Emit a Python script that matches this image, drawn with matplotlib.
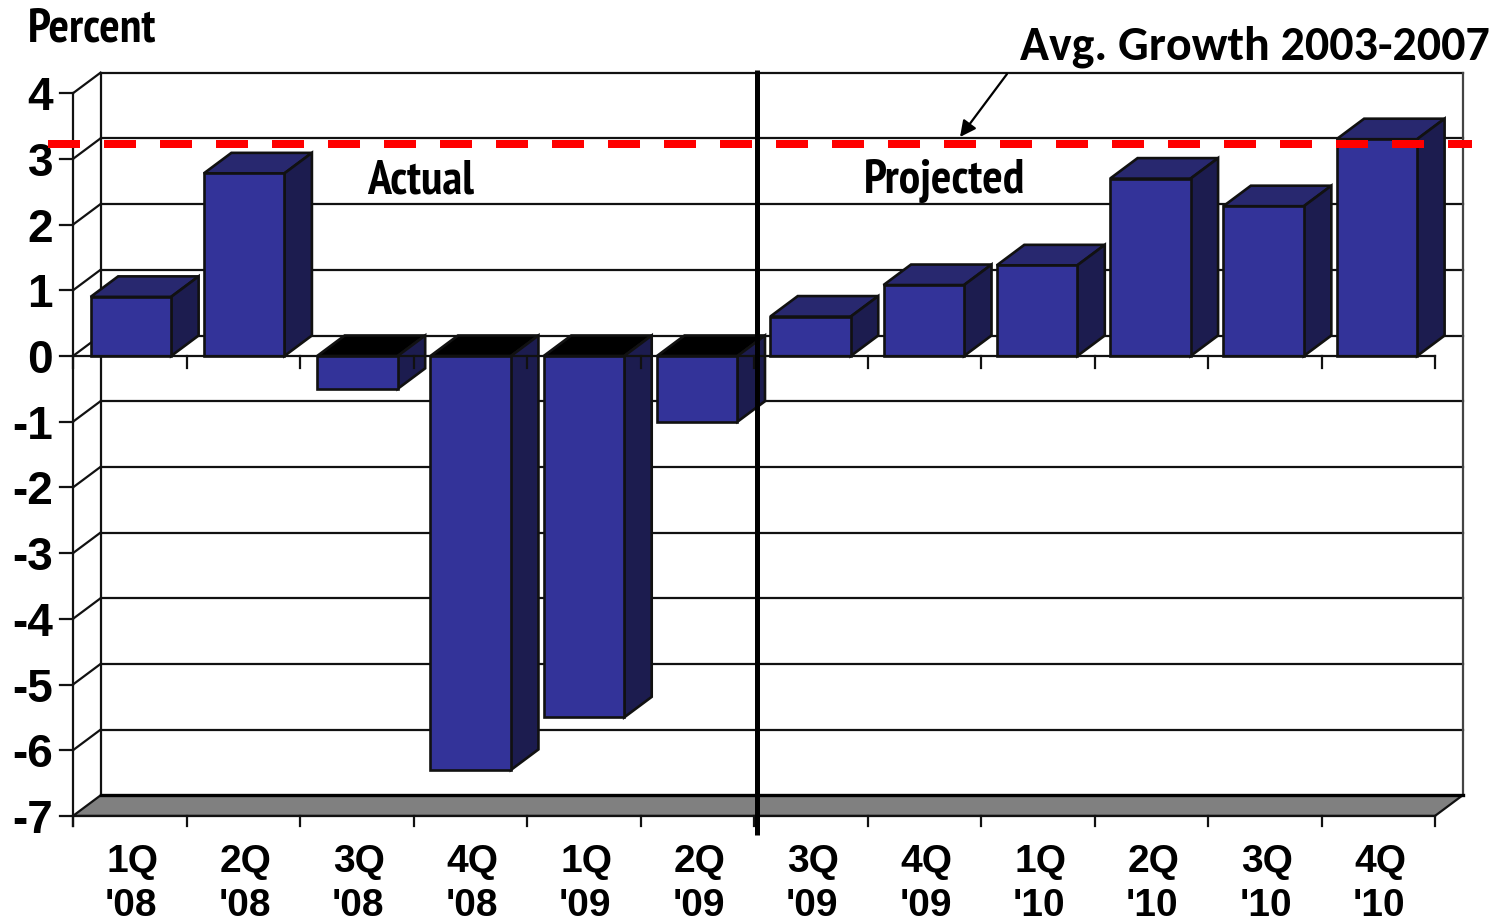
import matplotlib
matplotlib.use('Agg')
import matplotlib.pyplot as plt

quarters = ['1Q', '2Q', '3Q', '4Q', '1Q', '2Q', '3Q', '4Q', '1Q', '2Q', '3Q', '4Q']
years = ["'08", "'08", "'08", "'08", "'09", "'09", "'09", "'09", "'10", "'10", "'10", "'10"]
growth = [0.9, 2.78, -0.5, -6.3, -5.5, -1.0, 0.6, 1.08, 1.38, 2.7, 2.28, 3.3]
avg_growth = 3.23
yticks = [4, 3, 2, 1, 0, -1, -2, -3, -4, -5, -6, -7]

W, H = 1499, 924
XSTEP, YSTEP = 113.5, 65.7
X0, Y0 = 129.75, 356

narrow = ['PT Sans Narrow', 'Liberation Sans']
arial = 'Liberation Sans'
calibri = ['Carlito', 'Open Sans']


def xp(px):
    return (px - X0) / XSTEP


def yp(px):
    return (Y0 - px) / YSTEP


fig = plt.figure(figsize=(W / 100, H / 100), dpi=100)
ax = fig.add_axes([0, 0, 1, 1])
ax.set_xlim(xp(0), xp(W))
ax.set_ylim(yp(H), yp(0))
ax.axis('off')

dx = 27.5 / XSTEP
dy = 20.5 / YSTEP
bw = 80.5 / XSTEP
left = -0.5
right = len(growth) - 0.5
bottom = min(yticks)
top = max(yticks)
lw = 1.6
ink = '#111111'

# back wall and floor
ax.fill([left, left + dx, right + dx, right], [bottom, bottom + dy, bottom + dy, bottom],
        color='#808080', ec=ink, lw=lw, zorder=1)
for v in yticks[:-1]:
    ax.plot([left + dx, right + dx], [v + dy, v + dy], color=ink, lw=lw, zorder=1)
    ax.plot([left, left + dx], [v, v + dy], color=ink, lw=lw, zorder=1)
ax.plot([left + dx, right + dx], [bottom + dy, bottom + dy], color='black', lw=2.4, zorder=2)
ax.plot([left + dx, left + dx], [bottom + dy, top + dy], color=ink, lw=lw, zorder=1)
ax.plot([right + dx, right + dx], [bottom + dy, top + dy], color='#444444', lw=lw, zorder=1)
ax.plot([left, left], [bottom - 10 / YSTEP, top], color=ink, lw=lw, zorder=1)

# axis lines and ticks
for v in yticks:
    ax.plot([left - 13 / XSTEP, left], [v, v], color=ink, lw=lw, zorder=1)
    ax.text(xp(53), v, str(v), ha='right', va='center_baseline', family=arial,
            weight='bold', fontsize=33, color='black')
for base in [0, bottom]:
    ax.plot([left, right], [base, base], color=ink, lw=lw, zorder=5 if base == 0 else 2)
for i in range(len(growth) + 1):
    ax.plot([left + i, left + i], [-12 / YSTEP, 0], color=ink, lw=lw, zorder=5)
    ax.plot([left + i, left + i], [bottom - 10 / YSTEP, bottom], color=ink, lw=lw, zorder=2)

# bars: front from the axes, then top and side faces
pos = [i * 113.27 / XSTEP + 0.01 for i in range(len(growth))]
edge = 1.9
for x, v in zip(pos, growth):
    x1, x2 = x - bw / 2, x + bw / 2
    hi = max(v, 0)
    ax.fill([x1, x1 + dx, x2 + dx, x2], [hi, hi + dy, hi + dy, hi],
            fc='#28286f' if v > 0 else 'black', ec=ink, lw=edge, zorder=3)
    ax.fill([x2, x2 + dx, x2 + dx, x2], [min(v, 0), min(v, 0) + dy, hi + dy, hi],
            fc='#1c1c4f', ec=ink, lw=edge, zorder=3)
ax.bar(pos, growth, width=bw, color='#333399', edgecolor=ink, linewidth=edge, zorder=4)

# average line and divider
ax.plot([xp(48), xp(1472)], [avg_growth, avg_growth], color='#ff0000', lw=5.76,
        dashes=(4, 3), dash_capstyle='butt', zorder=6)
ax.plot([xp(757), xp(757)], [yp(70), yp(835)], color='black', lw=3.6, zorder=7,
        solid_capstyle='butt')

for i, (q, y) in enumerate(zip(quarters, years)):
    ax.text(i + 0.02, yp(872), q, ha='center', va='baseline', family=arial,
            weight='bold', fontsize=28, color='black')
    ax.text(i + 0.01, yp(915.5), y, ha='center', va='baseline', family=arial,
            weight='bold', fontsize=28, color='black')

ax.text(xp(28), yp(41), 'Percent', ha='left', va='baseline', family=narrow,
        weight='bold', fontsize=34.5, color='black')
ax.text(xp(421), yp(193), 'Actual', ha='center', va='baseline', family=narrow,
        weight='bold', fontsize=34.5, color='black', zorder=8)
ax.text(xp(944), yp(193), 'Projected', ha='center', va='baseline', family=narrow,
        weight='bold', fontsize=34.5, color='black', zorder=8)
ax.text(xp(1490), yp(60), 'Avg. Growth 2003-2007', ha='right', va='baseline',
        family=calibri, weight='bold', fontsize=34.5, color='black')
ax.annotate('', xy=(xp(960), yp(137)), xytext=(xp(1007), yp(74)),
            arrowprops=dict(arrowstyle='-|>', color='black', lw=1.6, mutation_scale=24,
                            shrinkA=0, shrinkB=0), zorder=8)

fig.savefig('out.png', dpi=100)
